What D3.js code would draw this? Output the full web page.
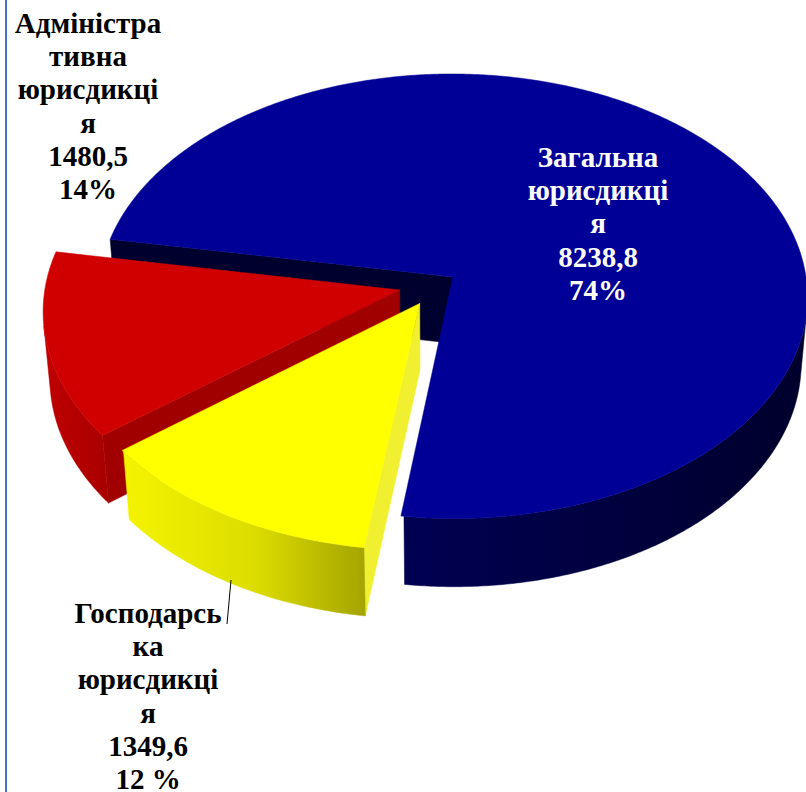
<!DOCTYPE html>
<html>
<head>
<meta charset="utf-8">
<script src="https://cdn.jsdelivr.net/npm/d3@7"></script>
</head>
<body style="margin:0">
<div id="chart"></div>
<script>
// data
var categories = ["Загальна юрисдикція", "Господарська юрисдикція", "Адміністративна юрисдикція"];
var values = [8238.8, 1349.6, 1480.5];
var percents = ["74%", "12 %", "14%"];
var labelLines = [
  ["Загальна", "юрисдикці", "я"],
  ["Господарсь", "ка", "юрисдикці", "я"],
  ["Адміністра", "тивна", "юрисдикці", "я"]
];
var explode = [0.054, 0.10, 0.11];

var W = 806, H = 792;

var svgContainer = d3.select("div#chart").append("svg")
    .attr("width", W)
    .attr("height", H);

// simple perspective camera for the 3d pie
var tilt = 38.8 * Math.PI / 180,
    sinA = Math.sin(tilt), cosA = Math.cos(tilt),
    dist = 8.96, focal = 3172,
    cx = 437.5, cy = 284,
    thick = 0.245;
var cam = [0, dist * cosA, dist * sinA];

function proj(a, b, z) {
  var yc = -b * sinA + z * cosA;
  var dep = dist - b * cosA - z * sinA;
  return [cx + focal * a / dep, cy - focal * yc / dep];
}
function depth(a, b, z) {
  return dist - b * cosA - z * sinA;
}

var pie = d3.pie().sort(null)
    .startAngle(280 * Math.PI / 180)
    .endAngle(640 * Math.PI / 180);
var arcs = pie(values);

var topColor = ["#000096", "#ffff00", "#d00000"];
var radialColor = ["#00002e", "#f0f030", "#a00000"];

var defs = svgContainer.append("defs");
function grad(id, stops) {
  var g = defs.append("linearGradient").attr("id", id)
      .attr("x1", 0).attr("y1", 0).attr("x2", 1).attr("y2", 0);
  stops.forEach(function(s) {
    g.append("stop").attr("offset", s[0]).attr("stop-color", s[1]);
  });
}
grad("wall0", [[0, "#000052"], [0.5, "#000040"], [1, "#00002c"]]);
grad("wall1", [[0, "#f4f400"], [0.55, "#dcdc00"], [1, "#a4a400"]]);
grad("wall2", [[0, "#c00000"], [1, "#a80000"]]);

var walls = [], tops = [];
var step = Math.PI / 360;

arcs.forEach(function(d, i) {
  var t0 = d.startAngle - Math.PI / 2,
      t1 = d.endAngle - Math.PI / 2,
      mid = (t0 + t1) / 2;
  var oa = explode[i] * Math.cos(mid), ob = explode[i] * Math.sin(mid);

  // top face
  var pts = [proj(oa, ob, 0)];
  for (var t = t0; t < t1; t += step) pts.push(proj(oa + Math.cos(t), ob + Math.sin(t), 0));
  pts.push(proj(oa + Math.cos(t1), ob + Math.sin(t1), 0));
  tops.push({ pts: pts, fill: topColor[i] });

  // outer wall, visible runs only
  function seen(t) {
    var c = Math.cos(t), s = Math.sin(t);
    return c * (cam[0] - oa - c) + s * (cam[1] - ob - s) > 0;
  }
  var run = [];
  function flush() {
    if (run.length > 1) {
      var up = run.map(function(t) { return proj(oa + Math.cos(t), ob + Math.sin(t), 0); });
      var dn = run.map(function(t) { return proj(oa + Math.cos(t), ob + Math.sin(t), -thick); }).reverse();
      var tm = run[Math.floor(run.length / 2)];
      walls.push({ pts: up.concat(dn), fill: "url(#wall" + i + ")",
        dep: depth(oa + Math.cos(tm), ob + Math.sin(tm), -thick / 2) });
    }
    run = [];
  }
  for (var t = t0; t <= t1 + 1e-9; t += step) {
    var tt = Math.min(t, t1);
    if (seen(tt)) run.push(tt); else flush();
  }
  flush();

  // radial walls
  [[t0, [Math.sin(t0), -Math.cos(t0)]], [t1, [-Math.sin(t1), Math.cos(t1)]]].forEach(function(e) {
    var t = e[0], n = e[1];
    var ma = oa + 0.5 * Math.cos(t), mb = ob + 0.5 * Math.sin(t);
    if (n[0] * (cam[0] - ma) + n[1] * (cam[1] - mb) <= 0) return;
    var ra = oa + Math.cos(t), rb = ob + Math.sin(t);
    walls.push({
      pts: [proj(oa, ob, 0), proj(ra, rb, 0), proj(ra, rb, -thick), proj(oa, ob, -thick)],
      fill: radialColor[i],
      dep: depth(ma, mb, -thick / 2)
    });
  });
});

walls.sort(function(a, b) { return b.dep - a.dep; });

var line = d3.line();
svgContainer.append("g").selectAll("path.wall").data(walls).enter().append("path")
    .attr("class", "wall")
    .attr("d", function(d) { return line(d.pts) + "Z"; })
    .attr("fill", function(d) { return d.fill; })
    .attr("stroke", function(d) { return d.fill; })
    .attr("stroke-width", 0.5);

svgContainer.append("g").selectAll("path.top").data(tops).enter().append("path")
    .attr("class", "top")
    .attr("d", function(d) { return line(d.pts) + "Z"; })
    .attr("fill", function(d) { return d.fill; })
    .attr("stroke", function(d) { return d.fill; })
    .attr("stroke-width", 0.5);

//leader line for the yellow label
svgContainer.append("line")
    .attr("x1", 231).attr("y1", 580)
    .attr("x2", 227).attr("y2", 624)
    .attr("stroke", "black")
    .attr("stroke-width", 1);

// labels, one text per line
var labelLayout = [
  { x: 598, y: 167, color: "white" },
  { x: 148, y: 623, color: "black" },
  { x: 88, y: 33, color: "black" }
];
var fmt = function(v) { return String(v).replace(".", ","); };

arcs.forEach(function(d, i) {
  var lines = labelLines[i].concat([fmt(values[i]), percents[i]]);
  lines.forEach(function(s, k) {
    svgContainer.append("text")
        .attr("x", labelLayout[i].x)
        .attr("y", labelLayout[i].y + k * 33.2)
        .style("font-family", "'Liberation Serif'")
        .style("font-weight", "bold")
        .style("font-size", "29px")
        .style("fill", labelLayout[i].color)
        .attr("text-anchor", "middle")
        .text(s);
  });
});

//frame on the left
svgContainer.append("line")
    .attr("x1", 6).attr("y1", 0)
    .attr("x2", 6).attr("y2", H)
    .attr("stroke", "#4472c4")
    .attr("stroke-width", 2);
</script>
</body>
</html>
